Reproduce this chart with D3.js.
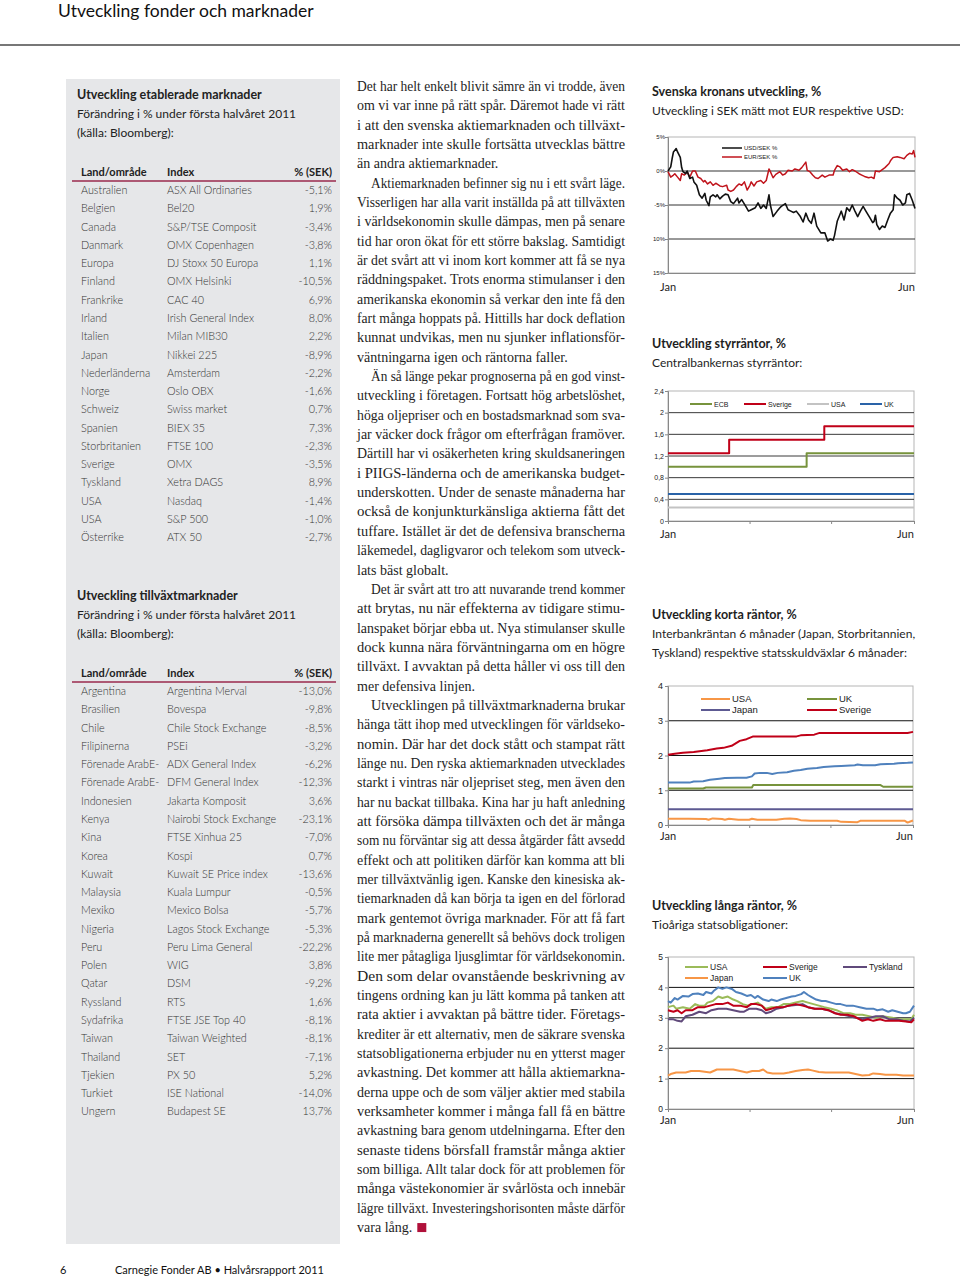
<!DOCTYPE html>
<html><head><meta charset="utf-8">
<script src="https://cdn.jsdelivr.net/npm/d3@7"></script>
<style>body{margin:0;background:#fff}svg{display:block}</style>
</head><body>
<svg id="page" width="960" height="1279"></svg>
<script>
// ---------------- DATA ----------------
const estCountries = ["Australien","Belgien","Canada","Danmark","Europa","Finland","Frankrike","Irland","Italien","Japan","Nederländerna","Norge","Schweiz","Spanien","Storbritanien","Sverige","Tyskland","USA","USA","Österrike"];
const estIndices = ["ASX All Ordinaries","Bel20","S&P/TSE Composit","OMX Copenhagen","DJ Stoxx 50 Europa","OMX Helsinki","CAC 40","Irish General Index","Milan MIB30","Nikkei 225","Amsterdam","Oslo OBX","Swiss market","BIEX 35","FTSE 100","OMX","Xetra DAGS","Nasdaq","S&P 500","ATX 50"];
const estValues = [-5.1,1.9,-3.4,-3.8,1.1,-10.5,6.9,8.0,2.2,-8.9,-2.2,-1.6,0.7,7.3,-2.3,-3.5,8.9,-1.4,-1.0,-2.7];

const emCountries = ["Argentina","Brasilien","Chile","Filipinerna","Förenade ArabE-","Förenade ArabE-","Indonesien","Kenya","Kina","Korea","Kuwait","Malaysia","Mexiko","Nigeria","Peru","Polen","Qatar","Ryssland","Sydafrika","Taiwan","Thailand","Tjekien","Turkiet","Ungern"];
const emIndices = ["Argentina Merval","Bovespa","Chile Stock Exchange","PSEi","ADX General Index","DFM General Index","Jakarta Komposit","Nairobi Stock Exchange","FTSE Xinhua 25","Kospi","Kuwait SE Price index","Kuala Lumpur","Mexico Bolsa","Lagos Stock Exchange","Peru Lima General","WIG","DSM","RTS","FTSE JSE Top 40","Taiwan Weighted","SET","PX 50","ISE National","Budapest SE"];
const emValues = [-13.0,-9.8,-8.5,-3.2,-6.2,-12.3,3.6,-23.1,-7.0,0.7,-13.6,-0.5,-5.7,-5.3,-22.2,3.8,-9.2,1.6,-8.1,-8.1,-7.1,5.2,-14.0,13.7];

// Chart 1: SEK development (day of half-year, %)
const usdSek = [[0,0],[2,0.6],[3,1.8],[4,2.8],[6,3.3],[7,2.8],[9,2.0],[10,0.5],[11,-0.1],[13,-0.4],[14,0],[16,-1.1],[18,-0.9],[19,-1.6],[21,-2.1],[23,-3.5],[25,-4.0],[27,-3.3],[28,-4.3],[30,-5.1],[31,-3.8],[33,-3.5],[35,-3.8],[36,-3.5],[38,-4.1],[40,-3.7],[42,-3.4],[44,-3.5],[46,-4.5],[48,-4.8],[51,-4.0],[52,-4.7],[54,-4.2],[57,-5.2],[59,-5.9],[61,-5.7],[64,-5.4],[66,-4.7],[68,-5.5],[70,-5.0],[72,-5.5],[74,-3.5],[75,-5.0],[77,-6.7],[80,-5.9],[82,-5.4],[83,-5.2],[86,-4.8],[88,-5.7],[90,-5.9],[92,-6.1],[94,-5.9],[97,-6.7],[99,-7.5],[101,-6.2],[103,-7.2],[105,-7.7],[107,-6.2],[109,-8.1],[112,-9.1],[114,-9.1],[115,-9.1],[117,-10.3],[119,-10.0],[121,-10.2],[122,-9.5],[124,-7.4],[126,-6.4],[127,-5.9],[129,-7.2],[131,-5.4],[133,-5.9],[135,-5.0],[137,-5.9],[139,-6.7],[141,-5.9],[143,-5.2],[145,-5.9],[148,-6.9],[150,-7.6],[151,-7.4],[152,-6.5],[153,-7.9],[155,-8.6],[157,-8.1],[159,-8.3],[161,-7.2],[163,-6.2],[165,-5.7],[166,-3.5],[168,-4.0],[170,-4.3],[172,-5.0],[174,-4.7],[175,-3.5],[177,-3.3],[179,-4.3],[181,-5.5]];
const eurSek = [[0,-0.1],[2,-0.9],[4,-0.6],[5,-0.4],[7,-0.9],[9,-1.4],[10,-0.4],[12,-0.6],[14,-0.1],[16,-0.9],[18,0],[20,0],[22,-0.9],[24,-1.1],[26,-1.6],[27,-1.4],[29,-1.9],[31,-1.6],[33,-2.1],[35,-1.8],[38,-2.2],[40,-2.3],[43,-2.1],[44,-2.8],[46,-3.0],[48,-2.8],[50,-2.3],[52,-1.9],[54,-2.1],[56,-1.6],[58,-2.8],[60,-2.1],[61,-1.6],[63,-2.2],[65,-1.6],[68,-1.4],[70,-1.8],[72,-1.4],[74,0.3],[75,-0.1],[77,-1.0],[79,-0.5],[82,-0.1],[84,-0.6],[86,-0.4],[88,0.1],[91,0],[93,0.3],[96,0.1],[98,0.5],[101,1.3],[102,0.1],[104,-0.1],[106,-0.6],[108,-1.0],[110,-1.1],[113,-0.6],[115,-0.9],[118,-0.6],[121,-0.6],[122,0.1],[124,0.8],[126,0.6],[128,0.1],[131,0.3],[133,-0.1],[135,0.2],[137,0],[140,-0.4],[142,-0.6],[144,-0.8],[147,-1.0],[149,-0.9],[151,-1.1],[152,0],[155,-0.1],[157,0.2],[159,0.5],[162,1.1],[163,1.5],[165,2.0],[168,2.1],[170,2.0],[173,1.8],[175,2.3],[177,2.6],[179,2.5],[180,3.0],[181,2.0]];
const sekTickValues = [5,0,-5,-10,-15];
const sekTickLabels = ["5%","0%","-5%","10%","15%"];

// Chart 2: policy rates
const rateEcb = [[0,1.0],[102,1.25],[181,1.25]];
const rateSverige = [[0,1.25],[45,1.5],[115,1.75],[181,1.75]];
const rateUsa = [[0,0.25],[181,0.25]];
const rateUk = [[0,0.5],[181,0.5]];
const rateTickValues = [0,0.4,0.8,1.2,1.6,2,2.4];
const rateTickLabels = ["0","0,4","0,8","1,2","1,6","2","2,4"];

// Chart 3: short rates
const shortSverige = [[0,2.02],[5,2.05],[11,2.08],[19,2.1],[29,2.15],[36,2.2],[41,2.22],[47,2.28],[53,2.42],[58,2.47],[63,2.55],[78,2.55],[95,2.55],[98,2.58],[108,2.6],[112,2.65],[128,2.65],[153,2.65],[177,2.65],[181,2.68]];
const shortTyskland = [[0,1.22],[16,1.22],[19,1.25],[26,1.26],[31,1.3],[38,1.33],[42,1.35],[51,1.36],[58,1.36],[62,1.4],[64,1.48],[68,1.5],[73,1.5],[77,1.47],[81,1.5],[88,1.52],[93,1.56],[98,1.58],[103,1.62],[110,1.64],[115,1.67],[123,1.69],[128,1.7],[138,1.72],[140,1.74],[144,1.72],[153,1.72],[157,1.75],[167,1.76],[170,1.78],[177,1.79],[181,1.8]];
const shortUk = [[0,1.05],[26,1.05],[28,1.08],[62,1.08],[63,1.15],[157,1.15],[159,1.1],[181,1.1]];
const shortJapan = [[0,0.45],[181,0.45]];
const shortUsa = [[0,0.18],[15,0.18],[28,0.17],[30,0.15],[33,0.19],[40,0.17],[42,0.15],[45,0.18],[52,0.15],[60,0.15],[62,0.18],[66,0.15],[80,0.15],[86,0.18],[90,0.19],[95,0.17],[98,0.14],[105,0.12],[125,0.12],[128,0.09],[140,0.08],[142,0.12],[175,0.12],[177,0.07],[179,0.1],[181,0.13]];
const shortTickValues = [0,1,2,3,4];
const shortTickLabels = ["0","1","2","3","4"];

// Chart 4: long rates
const longUk = [[0,3.55],[2,3.5],[5,3.65],[7,3.6],[11,3.72],[15,3.7],[18,3.78],[22,3.8],[26,3.75],[28,3.85],[32,3.8],[34,3.9],[37,4.0],[40,3.95],[43,4.0],[47,3.95],[50,3.85],[54,3.8],[58,3.72],[61,3.75],[64,3.65],[66,3.72],[70,3.6],[74,3.55],[76,3.6],[80,3.55],[83,3.6],[87,3.65],[91,3.7],[94,3.72],[98,3.78],[100,3.85],[103,3.75],[105,3.7],[109,3.6],[113,3.55],[116,3.55],[120,3.5],[124,3.45],[127,3.45],[131,3.4],[136,3.4],[141,3.35],[146,3.3],[151,3.3],[154,3.25],[158,3.28],[162,3.2],[165,3.25],[169,3.2],[173,3.15],[175,3.15],[178,3.2],[181,3.4]];
const longUsa = [[0,3.35],[4,3.4],[6,3.3],[11,3.35],[16,3.3],[20,3.45],[23,3.4],[27,3.4],[29,3.5],[33,3.55],[37,3.7],[40,3.65],[44,3.7],[48,3.6],[51,3.55],[55,3.45],[59,3.4],[62,3.45],[66,3.5],[69,3.4],[72,3.3],[76,3.35],[81,3.35],[85,3.45],[89,3.45],[94,3.5],[99,3.55],[103,3.5],[107,3.45],[111,3.4],[115,3.35],[120,3.3],[124,3.25],[129,3.15],[134,3.15],[138,3.1],[143,3.1],[148,3.05],[153,3.0],[158,3.05],[165,3.0],[170,2.95],[175,2.95],[179,2.95],[181,3.1]];
const longSverige = [[0,3.25],[4,3.2],[7,3.25],[10,3.15],[13,3.25],[18,3.25],[22,3.35],[27,3.35],[31,3.4],[35,3.45],[40,3.45],[44,3.5],[48,3.4],[53,3.4],[58,3.35],[61,3.45],[65,3.45],[69,3.4],[72,3.25],[76,3.3],[80,3.35],[85,3.35],[89,3.4],[94,3.45],[99,3.4],[103,3.35],[108,3.3],[113,3.3],[118,3.25],[123,3.15],[127,3.1],[132,3.1],[137,3.05],[141,2.95],[143,2.9],[147,2.95],[151,2.9],[156,2.95],[160,2.9],[165,2.9],[170,2.9],[175,2.88],[179,2.85],[181,2.95]];
const longTyskland = [[0,2.95],[4,2.95],[7,2.9],[10,2.88],[13,3.05],[18,3.1],[23,3.2],[28,3.15],[32,3.25],[37,3.3],[43,3.3],[48,3.25],[53,3.2],[56,3.2],[60,3.3],[65,3.3],[69,3.25],[72,3.15],[76,3.2],[80,3.3],[85,3.35],[89,3.4],[94,3.42],[99,3.45],[103,3.35],[108,3.3],[113,3.3],[118,3.25],[123,3.15],[129,3.1],[134,3.05],[138,3.0],[143,2.95],[148,3.0],[153,3.05],[158,3.05],[163,2.95],[168,2.95],[173,2.9],[178,2.88],[181,3.0]];
const longJapan = [[0,1.1],[2,1.15],[6,1.2],[13,1.2],[17,1.25],[23,1.25],[31,1.2],[36,1.3],[43,1.3],[48,1.3],[53,1.25],[58,1.2],[62,1.25],[67,1.25],[70,1.3],[73,1.2],[77,1.17],[85,1.17],[89,1.2],[94,1.25],[99,1.28],[103,1.3],[106,1.27],[111,1.22],[116,1.2],[126,1.2],[133,1.2],[138,1.15],[143,1.1],[148,1.12],[151,1.17],[156,1.15],[160,1.13],[168,1.13],[173,1.1],[181,1.1]];
const longTickValues = [0,1,2,3,4,5];
const longTickLabels = ["0","1","2","3","4","5"];

const monthLabels = ["Jan","Jun"];

const bodyParagraphs = [
 ["Det har helt enkelt blivit sämre än vi trodde, även","om vi var inne på rätt spår. Däremot hade vi rätt","i att den svenska aktiemarknaden och tillväxt-","marknader inte skulle fortsätta utvecklas bättre","än andra aktiemarknader."],
 ["Aktiemarknaden befinner sig nu i ett svårt läge.","Visserligen har alla varit inställda på att tillväxten","i världsekonomin skulle dämpas, men på senare","tid har oron ökat för ett större bakslag. Samtidigt","är det svårt att vi inom kort kommer att få se nya","räddningspaket. Trots enorma stimulanser i den","amerikanska ekonomin så verkar den inte få den","fart många hoppats på. Hittills har dock deflation","kunnat undvikas, men nu sjunker inflationsför-","väntningarna igen och räntorna faller."],
 ["Än så länge pekar prognoserna på en god vinst-","utveckling i företagen. Fortsatt hög arbetslöshet,","höga oljepriser och en bostadsmarknad som sva-","jar väcker dock frågor om efterfrågan framöver.","Därtill har vi osäkerheten kring skuldsaneringen","i PIIGS-länderna och de amerikanska budget-","underskotten. Under de senaste månaderna har","också de konjunkturkänsliga aktierna fått det","tuffare. Istället är det de defensiva branscherna","läkemedel, dagligvaror och telekom som utveck-","lats bäst globalt."],
 ["Det är svårt att tro att nuvarande trend kommer","att brytas, nu när effekterna av tidigare stimu-","lanspaket börjar ebba ut. Nya stimulanser skulle","dock kunna nära förväntningarna om en högre","tillväxt. I avvaktan på detta håller vi oss till den","mer defensiva linjen."],
 ["Utvecklingen på tillväxtmarknaderna brukar","hänga tätt ihop med utvecklingen för världseko-","nomin. Där har det dock stått och stampat rätt","länge nu. Den ryska aktiemarknaden utvecklades","starkt i vintras när oljepriset steg, men även den","har nu backat tillbaka. Kina har ju haft anledning","att försöka dämpa tillväxten och det är många","som nu förväntar sig att dessa åtgärder fått avsedd","effekt och att politiken därför kan komma att bli","mer tillväxtvänlig igen. Kanske den kinesiska ak-","tiemarknaden då kan börja ta igen en del förlorad","mark gentemot övriga marknader. För att få fart","på marknaderna generellt så behövs dock troligen","lite mer påtagliga ljusglimtar för världsekonomin.","Den som delar ovanstående beskrivning av","tingens ordning kan ju lätt komma på tanken att","rata aktier i avvaktan på bättre tider. Företags-","krediter är ett alternativ, men de säkrare svenska","statsobligationerna erbjuder nu en ytterst mager","avkastning. Det kommer att hålla aktiemarkna-","derna uppe och de som väljer aktier med stabila","verksamheter kommer i många fall få en bättre","avkastning bara genom utdelningarna. Efter den","senaste tidens börsfall framstår många aktier","som billiga. Allt talar dock för att problemen för","många västekonomier är svårlösta och innebär","lägre tillväxt. Investeringshorisonten måste därför","vara lång."]
];

// ---------------- DRAW ----------------
const svg = d3.select("#page");
const SANS = "Lato, 'Open Sans', 'DejaVu Sans', sans-serif";
const ARIAL = "'Liberation Sans', Arial, sans-serif";
const SERIF = "'Liberation Serif', 'DejaVu Serif', serif";

// Header
svg.append("text").attr("x",58).attr("y",17).attr("font-family",SANS).attr("font-size",17.5).attr("fill","#111").text("Utveckling fonder och marknader");
svg.append("line").attr("x1",0).attr("x2",960).attr("y1",45).attr("y2",45).attr("stroke","#4a4a4a").attr("stroke-width",1.6);

// Left grey panel
svg.append("rect").attr("x",66).attr("y",79).attr("width",274).attr("height",1165).attr("fill","#e6e7e9");

const fmtPct = v => d3.format(".1f")(v).replace(".",",").replace("−","-") + "%";

function drawTable(y0, title, countries, indices, values){
  const g = svg.append("g").attr("font-family",SANS);
  g.append("text").attr("x",77).attr("y",y0).attr("font-size",12.5).attr("font-weight",700).attr("fill","#222").text(title);
  g.append("text").attr("x",77).attr("y",y0+19).attr("font-size",12).attr("fill","#222").text("Förändring i % under första halvåret 2011");
  g.append("text").attr("x",77).attr("y",y0+38).attr("font-size",12).attr("fill","#222").text("(källa: Bloomberg):");
  const hy = y0+77;
  g.append("text").attr("x",81).attr("y",hy).attr("font-size",11).attr("font-weight",700).attr("fill","#222").text("Land/område");
  g.append("text").attr("x",167).attr("y",hy).attr("font-size",11).attr("font-weight",700).attr("fill","#222").text("Index");
  g.append("text").attr("x",332).attr("y",hy).attr("font-size",11).attr("font-weight",700).attr("fill","#222").attr("text-anchor","end").text("% (SEK)");
  g.append("line").attr("x1",72).attr("x2",336).attr("y1",hy+5).attr("y2",hy+5).attr("stroke","#9a2a4c").attr("stroke-width",1.3);
  const rows = countries.map((c,i)=>({c, idx:indices[i], v:values[i]}));
  const rs = g.selectAll("g.row").data(rows).join("g").attr("class","row")
    .attr("transform",(d,i)=>`translate(0,${hy+18+i*18.28})`);
  rs.append("text").attr("x",81).attr("font-size",10.8).attr("font-weight",300).attr("fill","#333").text(d=>d.c);
  rs.append("text").attr("x",167).attr("font-size",10.8).attr("font-weight",300).attr("fill","#333").text(d=>d.idx);
  rs.append("text").attr("x",332).attr("text-anchor","end").attr("font-size",10.8).attr("font-weight",300).attr("fill","#333").text(d=>fmtPct(d.v));
}
drawTable(99, "Utveckling etablerade marknader", estCountries, estIndices, estValues);
drawTable(600, "Utveckling tillväxtmarknader", emCountries, emIndices, emValues);

// Body text (justified)
(function(){
  const g = svg.append("g").attr("font-family",SERIF).attr("font-size",13.6).attr("fill","#1e1e1e");
  const left = 357, right = 625, lh = 19.34;
  let n = 0; const lastLines = []; const ratios = [];
  bodyParagraphs.forEach((p,pi)=>{
    p.forEach((line,li)=>{
      const indent = (pi>0 && li===0) ? 14 : 0;
      const t = g.append("text").attr("x",left+indent).attr("y",91+n*lh).text(line);
      const nat = t.node().getComputedTextLength();
      const target = right-left-indent;
      if(li < p.length-1){
        t.attr("textLength",target).attr("lengthAdjust","spacingAndGlyphs");
        ratios.push(target/nat);
      } else lastLines.push({t,nat});
      n++;
    });
  });
  const f = d3.mean(ratios);
  let lastEnd = 0;
  lastLines.forEach(({t,nat})=>{ t.attr("textLength",nat*f).attr("lengthAdjust","spacingAndGlyphs"); lastEnd = +t.attr("x")+nat*f; });
  svg.append("rect").attr("x",lastEnd+5).attr("y",91+(n-1)*lh-9).attr("width",9).attr("height",9).attr("fill","#b0103a");
})();

// Chart helper
function chart(o){
  const g = svg.append("g");
  const x = d3.scaleLinear().domain([0,181]).range([o.x0,o.x1]);
  const y = d3.scaleLinear().domain(o.domain).range([o.yb,o.yt]);
  o.titles.forEach((t,i)=>{
    g.append("text").attr("x",652).attr("y",o.titleY+i*19).attr("font-family",SANS)
      .attr("font-size",i===0?12.5:12).attr("font-weight",i===0?700:400).attr("fill","#1e1e1e").text(t);
  });
  g.append("rect").attr("x",o.x0).attr("y",o.yt).attr("width",o.x1-o.x0).attr("height",o.yb-o.yt)
    .attr("fill","none").attr("stroke","#b5b5b5").attr("stroke-width",1);
  o.grid.forEach(gv=>{
    g.append("line").attr("x1",o.x0).attr("x2",o.x1).attr("y1",y(gv.v)).attr("y2",y(gv.v))
      .attr("stroke",gv.c||"#333").attr("stroke-width",gv.w||1);
  });
  const ya = d3.axisLeft(y).tickValues(o.ticks).tickSize(3).tickFormat(d=>o.tickLabels[o.ticks.indexOf(d)]);
  const yg = g.append("g").attr("transform",`translate(${o.x0},0)`).call(ya);
  yg.select(".domain").attr("stroke","#888");
  yg.selectAll(".tick line").attr("stroke","#888");
  yg.selectAll(".tick text").attr("font-family",ARIAL).attr("font-size",o.labelSize).attr("fill","#222").attr("x",-o.labelGap);
  const xa = d3.axisBottom(x).tickValues(o.xTicks).tickSize(o.xTickSize).tickFormat("");
  const xg = g.append("g").attr("transform",`translate(0,${o.yb})`).call(xa);
  xg.select(".domain").attr("stroke","#888");
  xg.selectAll(".tick line").attr("stroke","#888");
  g.append("text").attr("x",o.x0-8).attr("y",o.monthY).attr("font-family",SANS).attr("font-size",11).attr("fill","#1e1e1e").text(monthLabels[0]);
  g.append("text").attr("x",o.x1-17).attr("y",o.monthY).attr("font-family",SANS).attr("font-size",11).attr("fill","#1e1e1e").text(monthLabels[1]);
  o.series.forEach(s=>{
    const line = d3.line().x(d=>x(d[0])).y(d=>y(d[1])).curve(s.step?d3.curveStepAfter:d3.curveLinear);
    g.append("path").attr("d",line(s.data)).attr("fill","none").attr("stroke",s.color).attr("stroke-width",s.w||2).attr("stroke-linejoin","round");
  });
  o.legend.forEach(l=>{
    g.append("line").attr("x1",l.x).attr("x2",l.x+l.len).attr("y1",l.y).attr("y2",l.y).attr("stroke",l.color).attr("stroke-width",l.w||2);
    g.append("text").attr("x",l.x+l.len+2).attr("y",l.y+l.size*0.36).attr("font-family",ARIAL).attr("font-size",l.size).attr("fill","#222").text(l.name);
  });
}

const RED = "#c00018";
chart({
  titles:["Svenska kronans utveckling, %","Utveckling i SEK mätt mot EUR respektive USD:"], titleY:96,
  x0:668,x1:915,yt:137,yb:273,domain:[-15,5],ticks:sekTickValues,tickLabels:sekTickLabels,labelSize:6,labelGap:3,
  grid:[{v:0,c:"#777",w:1.6},{v:-5,c:"#333"},{v:-10,c:"#333"}],
  xTicks:[],xTickSize:0,monthY:291,
  series:[{data:eurSek,color:"#c0141c",w:1.5},{data:usdSek,color:"#111",w:1.6}],
  legend:[{name:"USD/SEK %",color:"#111",x:722,y:148,len:20,size:6,w:1.5},{name:"EUR/SEK %",color:"#c0141c",x:722,y:157,len:20,size:6,w:1.5}]
});
chart({
  titles:["Utveckling styrräntor, %","Centralbankernas styrräntor:"], titleY:348,
  x0:668,x1:914,yt:391,yb:521,domain:[0,2.4],ticks:rateTickValues,tickLabels:rateTickLabels,labelSize:7,labelGap:4,
  grid:[0.4,0.8,1.2,1.6,2].map(v=>({v,c:"#3a3a3a"})),
  xTicks:[0,60,120,181],xTickSize:3,monthY:538,
  series:[{data:rateUsa,color:"#c3c3c3"},{data:rateUk,color:"#2a63a8"},{data:rateEcb,color:"#77933c",step:true},{data:rateSverige,color:RED,step:true}],
  legend:[{name:"ECB",color:"#77933c",x:690,y:404,len:22,size:7},{name:"Sverige",color:RED,x:744,y:404,len:22,size:7},{name:"USA",color:"#c3c3c3",x:807,y:404,len:22,size:7},{name:"UK",color:"#2a63a8",x:860,y:404,len:22,size:7}]
});
chart({
  titles:["Utveckling korta räntor, %","Interbankräntan 6 månader (Japan, Storbritannien,","Tyskland) respektive statsskuldväxlar 6 månader:"], titleY:619,
  x0:668,x1:913,yt:686,yb:825,domain:[0,4],ticks:shortTickValues,tickLabels:shortTickLabels,labelSize:9,labelGap:5,
  grid:[1,2,3].map(v=>({v,c:"#111"})),
  xTicks:[0,60,120,181],xTickSize:3,monthY:840,
  series:[{data:shortUsa,color:"#f79646"},{data:shortJapan,color:"#5d5a92"},{data:shortUk,color:"#77933c"},{data:shortTyskland,color:"#4f81bd"},{data:shortSverige,color:RED}],
  legend:[{name:"USA",color:"#f79646",x:701,y:699,len:29,size:9.5},{name:"UK",color:"#77933c",x:807,y:699,len:30,size:9.5},{name:"Japan",color:"#5d5a92",x:701,y:710,len:29,size:9.5},{name:"Sverige",color:RED,x:807,y:710,len:30,size:9.5}]
});
chart({
  titles:["Utveckling långa räntor, %","Tioåriga statsobligationer:"], titleY:910,
  x0:668,x1:914,yt:957,yb:1109,domain:[0,5],ticks:longTickValues,tickLabels:longTickLabels,labelSize:8.5,labelGap:5,
  grid:[1,2,3,4].map(v=>({v,c:"#111"})),
  xTicks:[0,60,120,181],xTickSize:3,monthY:1124,
  series:[{data:longJapan,color:"#f79646"},{data:longUk,color:"#4f81bd"},{data:longUsa,color:"#9bbb59"},{data:longTyskland,color:"#604a7b"},{data:longSverige,color:RED}],
  legend:[{name:"USA",color:"#9bbb59",x:685,y:967,len:23,size:8.5},{name:"Sverige",color:RED,x:763,y:967,len:24,size:8.5},{name:"Tyskland",color:"#604a7b",x:843,y:967,len:24,size:8.5},{name:"Japan",color:"#f79646",x:685,y:978,len:23,size:8.5},{name:"UK",color:"#4f81bd",x:763,y:978,len:24,size:8.5}]
});

// Footer
svg.append("text").attr("x",60).attr("y",1274).attr("font-family",SANS).attr("font-size",11).attr("fill","#111").text("6");
svg.append("text").attr("x",115).attr("y",1274).attr("font-family",SANS).attr("font-size",11).attr("fill","#111").text("Carnegie Fonder AB • Halvårsrapport 2011");
</script>
</body></html>
